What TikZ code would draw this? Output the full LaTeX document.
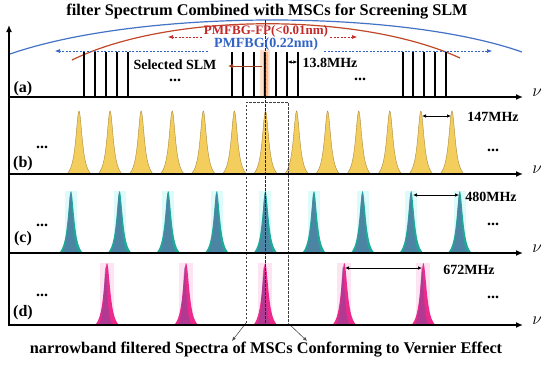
\documentclass[tikz,border=0pt]{standalone}
\usepackage{fontspec}
\setmainfont{Liberation Serif}
\usetikzlibrary{arrows.meta}
\definecolor{yel}{RGB}{244,206,92}
\definecolor{yelD}{RGB}{170,135,60}
\definecolor{tealA}{RGB}{30,170,152}
\definecolor{tealB}{RGB}{82,128,165}
\definecolor{pinkA}{RGB}{236,42,140}
\definecolor{purpB}{RGB}{132,70,150}
\definecolor{glowC}{RGB}{222,251,251}
\definecolor{glowP}{RGB}{253,228,243}
\definecolor{curveR}{RGB}{192,72,40}
\definecolor{txtR}{RGB}{196,40,40}
\definecolor{curveB}{RGB}{68,114,196}
\definecolor{txtB}{RGB}{50,100,200}
\newcommand\mypeak[6]{%
  \path[#6] plot[domain=-#5:#5,samples=49,smooth] ({#1+\x},{#2-#3*(1/(1+(\x/#4)^2)-1/(1+(#5/#4)^2))/(1-1/(1+(#5/#4)^2))}) -- cycle;}
\begin{document}
\begin{tikzpicture}[x=1pt,y=-1pt,
  axis/.style={line width=1.4pt,-{Latex[length=7pt,width=6pt]}},
  comb/.style={line width=1.3pt},
  ttl/.style={font=\fontsize{16.3}{16.3}\selectfont\bfseries,inner sep=0},
  plbl/.style={font=\fontsize{16}{16}\selectfont\bfseries,inner sep=0},
  mhz/.style={font=\fontsize{14}{14}\selectfont\bfseries,inner sep=0},
  dotsn/.style={font=\fontsize{16}{16}\selectfont\bfseries,inner sep=0},
  nulbl/.style={font=\fontsize{18}{18}\selectfont,inner sep=0},
  dbl/.style={line width=0.7pt,{Latex[length=4pt,width=3.5pt]}-{Latex[length=4pt,width=3.5pt]}},
  rdash/.style={txtR,line width=0.6pt,dashed,dash pattern=on 2pt off 1.5pt,-{Latex[length=5pt,width=4pt]}},
  bdash/.style={txtB,line width=0.6pt,dashed,dash pattern=on 2pt off 1.5pt,-{Latex[length=5pt,width=4pt]}},
  boxdash/.style={black!75,line width=0.7pt,dash pattern=on 2.5pt off 1.5pt},
  garrow/.style={black!70,line width=0.6pt,-{Latex[length=4pt,width=3.5pt]}}]
\useasboundingbox (0,0) rectangle (550,365);
\fill[white] (0,0) rectangle (550,365);

% orange glow for selected line
\fill[orange!80!red,opacity=0.2] (260,50) rectangle (270,97);
\fill[orange!80!red,opacity=0.35] (262.5,52) rectangle (267.5,97);

% glow bands (c),(d)
\foreach \k in {0,...,8}{\pgfmathsetmacro\xx{71+48.6*\k}
  \fill[glowC] (\xx-6,191) rectangle (\xx+6,253);}
\foreach \k in {0,...,4}{\pgfmathsetmacro\xx{107+79.1*\k}
  \fill[glowP] (\xx-7,263) rectangle (\xx+7,325);}

% curves
\draw[curveB,line width=1.2pt] (10,54) .. controls (140,9) and (400,9) .. (522,52);
\draw[curveR,line width=1.2pt] (72,60) .. controls (170,12) and (360,12) .. (460,58);

% (a) comb lines
\foreach \xx in {84,95,106,117,128,232,243,254,265,276,287,298,403,413,424,435,446}
  \draw[comb] (\xx,97) -- (\xx,52);

% (b) yellow peaks
\foreach \k in {0,...,12}{\pgfmathsetmacro\xx{79+31.08*\k}
  \mypeak{\xx}{174}{63}{4}{12}{fill=yel,draw=yelD,line width=0.4pt}}
% (c) teal peaks
\foreach \k in {0,...,8}{\pgfmathsetmacro\xx{71+48.6*\k}
  \mypeak{\xx}{253}{62}{4}{12}{fill=tealA}
  \mypeak{\xx-0.5}{253}{60}{2.8}{9}{fill=tealB,opacity=0.9}}
% (d) magenta peaks
\foreach \k in {0,...,4}{\pgfmathsetmacro\xx{107+79.1*\k}
  \mypeak{\xx}{325}{62}{4}{12}{fill=pinkA}
  \mypeak{\xx-1.5}{325}{58}{2.2}{7}{fill=purpB,opacity=0.55}}

% dashed box and centre line
\coordinate (bl) at (246,323); \coordinate (br) at (288,323);
\draw[boxdash] (bl) -- (246,102) -- (288,102) -- (br);
\draw[boxdash,black!85] (265,20) -- (265,325);
\coordinate (al) at (232,341); \coordinate (ar) at (307,341);
\draw[garrow] (bl) -- (al);
\draw[garrow] (br) -- (ar);

% axes
\coordinate (O) at (9,326);
\coordinate (Yt) at (9,25);
\draw[axis] (O) -- (Yt);
\foreach \yy/\nn in {97/a,174/b,253/c,325/d}{
  \coordinate (s\nn) at (8.3,\yy); \coordinate (e\nn) at (523,\yy);
  \draw[axis] (s\nn) -- (e\nn);
  \node[nulbl] (nu\nn) at (537,\yy-4) {$\nu$};}

% titles
\node[ttl] (t1) at (267,12) {filter Spectrum Combined with MSCs for Screening SLM};
\node[ttl] (t2) at (266,350) {narrowband filtered Spectra of MSCs Conforming to Vernier Effect};

% panel labels
\node[plbl] (la) at (23,89) {(a)};
\node[plbl] (lb) at (23,164) {(b)};
\node[plbl] (lc) at (23,239) {(c)};
\node[plbl] (ld) at (23,313) {(d)};

% (a) texts
\node[font=\fontsize{13}{13}\selectfont\bfseries,text=txtR,inner sep=0] (rt) at (266,31) {PMFBG-FP(<0.01nm)};
\node[font=\fontsize{14}{14}\selectfont\bfseries,text=txtB,inner sep=0] (bt) at (266,44) {PMFBG(0.22nm)};
\coordinate (rl) at (168,37); \coordinate (rr) at (357,37);
\draw[rdash] ([xshift=-2pt]rt.west |- rl) -- (rl);
\draw[rdash] ([xshift=2pt]rt.east |- rr) -- (rr);
\coordinate (bl2) at (55,51); \coordinate (br2) at (492,51);
\draw[bdash] ([xshift=-6pt]bt.west |- bl2) -- (bl2);
\draw[bdash] ([xshift=6pt]bt.east |- br2) -- (br2);

\node[mhz] (sel) at (175,64.5) {Selected SLM};
\coordinate (selA) at (262,66); \coordinate (selT) at (228,66);
\draw[line width=0.9pt,curveR!80!black,-{Latex[length=5pt,width=4.5pt]}] (selA) -- (selT);

\node[mhz] (m1) at (330,63) {13.8MHz};
\coordinate (m1a) at (287.6,62); \coordinate (m1b) at (297.4,62);
\draw[dbl] (m1b) -- (m1a);

\node[dotsn] (d1) at (175,80.5) {...};
\node[dotsn] (d2) at (360,79) {...};

% (b)
\node[mhz] (m2) at (493,117) {147MHz};
\coordinate (m2a) at (422,116); \coordinate (m2b) at (451,116);
\draw[dbl] (m2a) -- (m2b);
\node[dotsn] (d3) at (42,147) {...};
\node[dotsn] (d4) at (493,150) {...};

% (c)
\node[mhz] (m3) at (491,197) {480MHz};
\coordinate (m3a) at (413,195); \coordinate (m3b) at (459,195);
\draw[dbl] (m3a) -- (m3b);
\node[dotsn] (d5) at (42,225) {...};
\node[dotsn] (d6) at (493,224) {...};

% (d)
\node[mhz] (m4) at (469,270) {672MHz};
\coordinate (m4a) at (345,268); \coordinate (m4b) at (422,268);
\draw[dbl] (m4a) -- (m4b);
\node[dotsn] (d7) at (42,295) {...};
\node[dotsn] (d8) at (493,297) {...};
\end{tikzpicture}
\end{document}
